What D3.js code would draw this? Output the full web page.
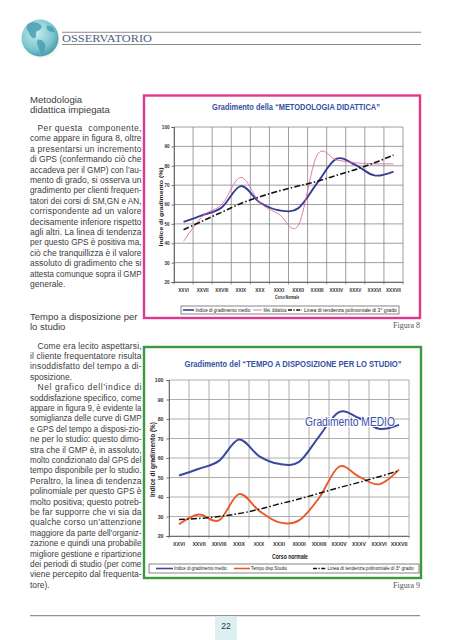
<!DOCTYPE html>
<html><head><meta charset="utf-8">
<script src="https://cdn.jsdelivr.net/npm/d3@7"></script>
<style>html,body{margin:0;padding:0;background:#fff;overflow:hidden}svg{display:block}</style>
</head><body>
<svg id="page" width="453" height="640"></svg>
<script>
// ---------------- DATA ----------------
const categories = ["XXVI","XXVII","XXVIII","XXIX","XXX","XXXI","XXXII","XXXIII","XXXIV","XXXV","XXXVI","XXXVII"];
const yTicks = [20,30,40,50,60,70,80,90,100];
const gmpValues = [51, 54.5, 58.5, 69.5, 61, 57, 58, 71, 83.5, 80.5, 75, 77];
const metDidatticaValues = [41, 54, 60, 74, 61, 55, 49, 85.5, 83, 81.5, 81, 81];
const trendMetodologiaValues = [47, 51.5, 56, 60.5, 64, 67, 69.5, 72, 75, 78, 81.5, 85.5];
const tempoStudioValues = [26, 31, 28, 41.5, 33, 27, 28, 39.5, 55.5, 50.5, 46.5, 54];
const trendTempoValues = [28.5, 29, 30, 31.5, 33.7, 36.4, 39, 41.9, 44.8, 47.5, 50.4, 53.5];

const text1Heading = ["Metodologia", "didattica impiegata"];
const text1Body = [
 ["Per questa  componente,", "j", 1],
 ["come appare in figura 8, oltre", "j"],
 ["a presentarsi un incremento", "j"],
 ["di GPS (confermando ciò che", "j"],
 ["accadeva per il GMP) con l’au-", "j"],
 ["mento di grado, si osserva un", "j"],
 ["gradimento per clienti frequen-", "j"],
 ["tatori dei corsi di SM,GN e AN,", "j"],
 ["corrispondente ad un valore", "j"],
 ["decisamente inferiore rispetto", "j"],
 ["agli altri. La linea di tendenza", "j"],
 ["per questo GPS è positiva ma,", "j"],
 ["ciò che tranquillizza è il valore", "j"],
 ["assoluto di gradimento che si", "j"],
 ["attesta comunque sopra il GMP", "j"],
 ["generale.", "l"]
];
const text2Heading = ["Tempo a disposizione per", "lo studio"];
const text2Body = [
 ["Come era lecito aspettarsi,", "j", 1],
 ["il cliente frequentatore risulta", "j"],
 ["insoddisfatto del tempo a di-", "j"],
 ["sposizione.", "l"],
 ["Nel grafico dell’indice di", "j", 1],
 ["soddisfazione specifico, come", "j"],
 ["appare in figura 9, è evidente la", "j"],
 ["somiglianza delle curve di GMP", "j"],
 ["e GPS del tempo a disposi-zio-", "j"],
 ["ne per lo studio: questo dimo-", "j"],
 ["stra che il GMP è, in assoluto,", "j"],
 ["molto condizionato dal GPS del", "j"],
 ["tempo disponibile per lo studio.", "j"],
 ["Peraltro, la linea di tendenza", "j"],
 ["polinomiale per questo GPS è", "j"],
 ["molto positiva; questo potreb-", "j"],
 ["be far supporre che vi sia da", "j"],
 ["qualche corso un’attenzione", "j"],
 ["maggiore da parte dell’organiz-", "j"],
 ["zazione e quindi una probabile", "j"],
 ["migliore gestione e ripartizione", "j"],
 ["dei periodi di studio (per come", "j"],
 ["viene percepito dal frequenta-", "j"],
 ["tore).", "l"]
];

// ---------------- PAGE ----------------
const svg = d3.select("#page");
const NARROW = "'Liberation Sans Narrow','Arial Narrow','Liberation Sans',Arial,sans-serif";
const SERIF = "'Liberation Serif','DejaVu Serif',serif";

// fit a text horizontally to a target width via a scale transform
function fitText(sel, x, y, target, rotate) {
  const w = sel.node().getComputedTextLength();
  const sx = w > 0 ? target / w : 1;
  sel.attr("x", 0).attr("y", 0)
     .attr("transform", `translate(${x},${y})${rotate ? " rotate(" + rotate + ")" : ""} scale(${sx},1)`);
  return sel;
}

// header globe
const defs = svg.append("defs");
const rg = defs.append("radialGradient").attr("id","globeG").attr("cx","40%").attr("cy","35%").attr("r","65%");
rg.append("stop").attr("offset","0%").attr("stop-color","#c9eef0");
rg.append("stop").attr("offset","70%").attr("stop-color","#7cc6cf");
rg.append("stop").attr("offset","100%").attr("stop-color","#4f9fae");
const sh = defs.append("radialGradient").attr("id","shadowG");
sh.append("stop").attr("offset","70%").attr("stop-color","#9aa").attr("stop-opacity",0.5);
sh.append("stop").attr("offset","100%").attr("stop-color","#fff").attr("stop-opacity",0);
svg.append("circle").attr("cx",41).attr("cy",39.5).attr("r",21).attr("fill","url(#shadowG)");
svg.append("circle").attr("cx",40).attr("cy",38).attr("r",18.5).attr("fill","url(#globeG)");
const land = svg.append("g").attr("fill","#4a9fb3").attr("opacity",0.85);
land.append("path").attr("d","M28,24 C32,21 38,22 41,25 C43,28 40,30 37,31 C35,33 37,36 35,38 C33,39 30,36 29,33 C27,30 25,27 28,24Z");
land.append("path").attr("d","M38,40 C41,39 44,41 45,44 C46,48 44,52 42,55 C40,53 39,49 38,46 C37,44 36,42 38,40Z");
land.append("path").attr("d","M47,26 C50,25 54,28 55,31 C54,33 51,32 49,31 C47,30 46,28 47,26Z");

// header rules & title
svg.append("line").attr("x1",62).attr("x2",421).attr("y1",32.3).attr("y2",32.3).attr("stroke","#8a8a8a").attr("stroke-width",1.1);
svg.append("line").attr("x1",62).attr("x2",421).attr("y1",44.5).attr("y2",44.5).attr("stroke","#8a8a8a").attr("stroke-width",1.1);
fitText(svg.append("text").attr("font-family",SERIF).attr("font-size",10.5).attr("fill","#4d5f80").text("OSSERVATORIO"), 62, 42.3, 90);

// footer
svg.append("line").attr("x1",30).attr("x2",420).attr("y1",615.7).attr("y2",615.7).attr("stroke","#777").attr("stroke-width",1);
svg.append("rect").attr("x",215).attr("y",616.5).attr("width",22).attr("height",24).attr("fill","#dcf0f4");
svg.append("text").attr("x",226).attr("y",628.5).attr("text-anchor","middle").attr("font-family","'Liberation Sans',Arial,sans-serif")
  .attr("font-size",8.5).attr("fill","#333").text("22");

// ---------------- BODY TEXT ----------------
function drawColumn(heading, body, hY, bY, L, left, right) {
  const g = svg.append("g").attr("font-family", NARROW).attr("fill", "#3c3c3c");
  const nodes = [];
  body.forEach((b,i) => {
    const x = left + (b[2] ? 7.5 : 0);
    const t = g.append("text").attr("x", x).attr("y", bY + i*L).attr("font-size", 8.5).attr("xml:space","preserve").text(b[0]);
    nodes.push({t, x, type: b[1]});
  });
  const ratios = [];
  nodes.forEach(n => {
    n.w = n.t.node().getComputedTextLength();
    if (n.type === "j") ratios.push(Math.min(1, (right - n.x) / n.w));
  });
  ratios.sort((a,b)=>a-b);
  const k = ratios.length ? ratios[Math.floor(ratios.length/2)] : 1;
  nodes.forEach(n => {
    if (n.type === "j") {
      const target = right - n.x;
      n.t.attr("textLength", target).attr("lengthAdjust", n.w > target ? "spacingAndGlyphs" : "spacing");
    } else if (k < 1) {
      n.t.attr("textLength", n.w * k).attr("lengthAdjust", "spacingAndGlyphs");
    }
  });
  heading.forEach((t,i) => {
    const h = g.append("text").attr("font-size", 9.6).text(t);
    const w = h.node().getComputedTextLength();
    fitText(h, left, hY + i*L, w * Math.min(1, k));
  });
}
drawColumn(text1Heading, text1Body, 103, 131, 10.4, 30, 141.5);
drawColumn(text2Heading, text2Body, 320, 348.5, 10.4, 30, 141.5);

// ---------------- CHARTS ----------------
function drawChart(opt) {
  const g = svg.append("g");
  g.append("rect").attr("x", opt.frame[0]).attr("y", opt.frame[1]).attr("width", opt.frame[2]).attr("height", opt.frame[3])
    .attr("fill", "#fff").attr("stroke", opt.frameColor).attr("stroke-width", 2.4);

  const x = d3.scaleBand().domain(categories).range([opt.x0, opt.x1]);
  const y = d3.scaleLinear().domain([20, 100]).range([opt.yb, opt.yt]);
  const cx = c => x(c) + x.bandwidth()/2;

  // grid
  const grid = g.append("g").attr("stroke", opt.gridColor).attr("stroke-width", 0.8);
  grid.selectAll("line.h").data(yTicks).join("line").attr("class","h")
    .attr("x1", opt.x0).attr("x2", opt.x1).attr("y1", d => y(d)).attr("y2", d => y(d));
  const bounds = categories.map(c => x(c)).concat([opt.x1]);
  grid.selectAll("line.v").data(bounds).join("line").attr("class","v")
    .attr("x1", d => d).attr("x2", d => d).attr("y1", y(100)).attr("y2", y(20) + 2.5);

  // y axis
  const ya = g.append("g").attr("transform", `translate(${opt.x0},0)`)
    .call(d3.axisLeft(y).tickValues(yTicks).tickSize(2.5).tickPadding(opt.yPad));
  ya.select(".domain").attr("stroke", "#555").attr("stroke-width", 0.8);
  ya.selectAll(".tick line").attr("stroke", "#555").attr("stroke-width", 0.8);
  ya.selectAll(".tick text").attr("font-family", NARROW).attr("font-weight", "bold")
    .attr("font-size", opt.tickFont).attr("fill", "#333");

  // x axis
  const xa = g.append("g").attr("transform", `translate(0,${opt.yb})`)
    .call(d3.axisBottom(x).tickSize(0).tickPadding(opt.xPad));
  xa.select(".domain").attr("stroke", "#555").attr("stroke-width", 0.8);
  xa.selectAll(".tick text").attr("font-family", NARROW).attr("font-weight", "bold")
    .attr("font-size", opt.tickFont).attr("fill", "#333");

  // titles
  fitText(g.append("text").attr("text-anchor", "middle").attr("font-family", NARROW).attr("font-weight", "bold")
    .attr("font-size", opt.title[4]).attr("fill", "#3550a4").text(opt.title[0]), opt.title[1], opt.title[2], opt.title[3]);
  fitText(g.append("text").attr("text-anchor", "middle").attr("font-family", NARROW).attr("font-weight", "bold")
    .attr("font-size", opt.yTitle[3]).attr("fill", "#222").text("Indice di gradimento (%)"), opt.yTitle[0], opt.yTitle[1], opt.yTitle[2], -90);
  fitText(g.append("text").attr("text-anchor", "middle").attr("font-family", NARROW).attr("font-weight", "bold")
    .attr("font-size", opt.xTitle[4]).attr("fill", "#222").text(opt.xTitle[0]), opt.xTitle[1], opt.xTitle[2], opt.xTitle[3]);

  // series
  const line = d3.line().x((d, i) => cx(categories[i])).y(d => y(d)).curve(d3.curveCardinal.tension(0));
  opt.series.forEach(s => {
    g.append("path").datum(s.values).attr("d", line).attr("fill", "none")
      .attr("stroke", s.color).attr("stroke-width", s.width)
      .attr("stroke-dasharray", s.dash || null).attr("stroke-linecap", "butt");
  });

  // legend
  const lg = opt.legend;
  g.append("rect").attr("x", lg.box[0]).attr("y", lg.box[1]).attr("width", lg.box[2]).attr("height", lg.box[3])
    .attr("fill", "#fff").attr("stroke", "#333").attr("stroke-width", 0.6);
  const ly = lg.box[1] + lg.box[3]/2;
  lg.items.forEach((it, i) => {
    const s = opt.series[i];
    g.append("line").attr("x1", it[0]).attr("x2", it[1]).attr("y1", ly).attr("y2", ly)
      .attr("stroke", s.color).attr("stroke-width", Math.min(s.width, 1.6)).attr("stroke-dasharray", s.dash ? "4,1.5,1.2,1.5" : null);
    fitText(g.append("text").attr("font-family", NARROW).attr("font-size", lg.font).attr("fill", "#222").text(s.name),
      it[2], ly + lg.font*0.36, it[3]);
  });

  // figure caption
  g.append("text").attr("x", opt.caption[1]).attr("y", opt.caption[2]).attr("text-anchor", "end")
    .attr("font-family", SERIF).attr("font-size", 8).attr("fill", "#555").text(opt.caption[0]);
  return {g, x, y};
}

drawChart({
  frame: [144, 95.5, 276, 222.5], frameColor: "#e0378f",
  x0: 174, x1: 403, yt: 127, yb: 282, gridColor: "#858585",
  tickFont: 4.6, yPad: 2, xPad: 6.5,
  title: ["Gradimento della “METODOLOGIA DIDATTICA”", 296, 110, 168, 9.6],
  yTitle: [162.5, 207, 79, 6.2],
  xTitle: ["Corso Normale", 287, 299, 24, 4.6],
  series: [
    {name: "Indice di gradimento medio", values: gmpValues, color: "#373c95", width: 1.9},
    {name: "Met. didattica", values: metDidatticaValues, color: "#e06aa5", width: 0.9},
    {name: "Linea di tendenza polinomiale di 3° grado", values: trendMetodologiaValues, color: "#111", width: 1.6, dash: "6,2.2,1.5,2.2"}
  ],
  legend: {box: [181, 306, 218, 8], font: 4.8,
    items: [[183, 194, 195.5, 55], [253, 262, 263.5, 23], [288, 302, 304, 93]]},
  caption: ["Figura 8", 420, 327.5]
});

const c2 = drawChart({
  frame: [144, 347, 277, 231], frameColor: "#3c9a3e",
  x0: 169, x1: 409, yt: 380, yb: 536, gridColor: "#9a9a9a",
  tickFont: 5.2, yPad: 3, xPad: 6,
  title: ["Gradimento del “TEMPO A DISPOSIZIONE PER LO STUDIO”", 293, 367, 217, 9.6],
  yTitle: [155, 459.5, 75, 6.6],
  xTitle: ["Corso normale", 290, 559, 36, 7],
  series: [
    {name: "Indice di gradimento medio", values: gmpValues, color: "#3a48a0", width: 2},
    {name: "Tempo disp Studio", values: tempoStudioValues, color: "#e85a2c", width: 1.9},
    {name: "Linea di tendenza polinomiale di 3° grado", values: trendTempoValues, color: "#111", width: 1.5, dash: "6,2.2,1.5,2.2"}
  ],
  legend: {box: [149, 564, 270, 9], font: 5.3,
    items: [[156, 173, 174, 53], [234, 250, 251, 36], [313, 326, 327.5, 86]]},
  caption: ["Figura 9", 420, 588]
});

fitText(c2.g.append("text").attr("font-family", "'Liberation Sans',Arial,sans-serif")
  .attr("font-size", 12.5).attr("fill", "#3b4ea8").attr("stroke", "#fff").attr("stroke-width", 2)
  .attr("paint-order", "stroke").text("Gradimento MEDIO"), 305, 426, 90);
</script>
</body></html>
